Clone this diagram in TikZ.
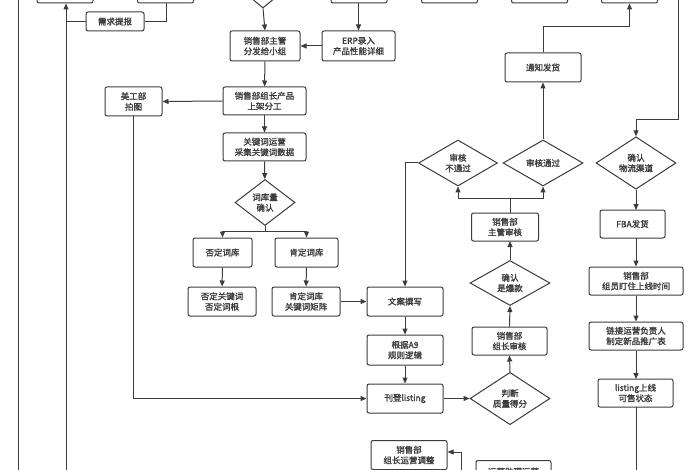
\documentclass[tikz,border=0pt]{standalone}
\usepackage{fontspec}
\setmainfont{Noto Sans CJK SC}[AutoFakeBold=1.6]
\usetikzlibrary{shapes.geometric,arrows.meta}
\definecolor{ln}{HTML}{3C3C3C}
\tikzset{
  box/.style={draw=ln,line width=1pt,rounded corners=2pt,fill=white,align=center,inner sep=1pt,font=\fontsize{8.5}{10.5}\selectfont\bfseries,text=ln},
  dia/.style={draw=ln,line width=1pt,diamond,fill=white,align=center,inner sep=0pt,font=\fontsize{8.5}{10.5}\selectfont\bfseries,text=ln},
  ar/.style={draw=ln,line width=1pt,-{Triangle[length=6pt,width=5pt]}},
  ln/.style={draw=ln,line width=1pt},
}
\begin{document}
\begin{tikzpicture}[x=1pt,y=-1pt]
\useasboundingbox (0,0) rectangle (700,470);
\clip (0,0) rectangle (700,470);
\fill[white] (0,0) rectangle (700,470);
% top partial boxes
\foreach \n/\x in {tba/65,tbb/165.5,tbc/359,tbd/449.5,tbe/539.5,tbf/629.5}
  \node[box,minimum width=56pt,minimum height=16pt] (\n) at (\x,-5) {};
\node[dia,minimum width=44pt,minimum height=36pt] (tdia) at (263,-10) {};
% left lines
\draw[ln] (18,470) -- (18,0);
\draw[ar] (66,470) -- (tba.south -| 66,0);
\node[box,minimum width=58pt,minimum height=19pt] (xq) at (115,21.5) {需求提报};
\draw[ln] (tbb.south -| 166,0) |- (xq.east);
\draw[ln] (xq.west) -- (66,21.5);
% center column
\node[box,minimum width=70pt,minimum height=30pt] (zg) at (265,46) {销售部主管\\分发给小组};
\node[box,minimum width=73pt,minimum height=30pt] (erp) at (358.5,46) {ERP录入\\产品性能详细};
\draw[ar] (tdia.south) -- (zg.north);
\draw[ar] (tbc.south -| 358.5,0) -- (erp.north);
\draw[ar] (erp.west) -- (zg.east);
\node[box,minimum width=83pt,minimum height=28pt] (zz) at (264.5,101) {销售部组长产品\\上架分工};
\node[box,minimum width=57pt,minimum height=29pt] (mg) at (133.5,101.5) {美工部\\拍图};
\draw[ar] (zg) -- (zz);
\draw[ar] (zz.west) -- (mg.east);
\node[box,minimum width=83pt,minimum height=28pt] (gj) at (264.5,147) {关键词运营\\采集关键词数据};
\draw[ar] (zz) -- (gj);
\node[dia,minimum width=60pt,minimum height=46pt] (ck) at (265,202.5) {词库量\\确认};
\draw[ar] (gj) -- (ck);
\node[box,minimum width=59pt,minimum height=29pt] (fd) at (222.5,252.5) {否定词库};
\node[box,minimum width=63pt,minimum height=29pt] (kd) at (306.5,252.5) {肯定词库};
\draw[ln] (ck.south) -- (265,231);
\draw[ar] (222.5,231) -- (fd.north);
\draw[ar] (306.5,231) -- (kd.north);
\draw[ln] (222.5,231) -- (306.5,231);
\node[box,minimum width=68pt,minimum height=29pt] (fg) at (222,301.5) {否定关键词\\否定词根};
\node[box,minimum width=68pt,minimum height=29pt] (kg) at (306,301.5) {肯定词库\\关键词矩阵};
\draw[ar] (fd) -- (fg);
\draw[ar] (kd) -- (kg);
% copy column
\node[box,minimum width=76pt,minimum height=29pt] (wa) at (405,301.5) {文案撰写};
\node[box,minimum width=76pt,minimum height=30pt] (a9) at (405,350) {根据A9\\规则逻辑};
\node[box,minimum width=76pt,minimum height=29pt] (kd2) at (405,398.5) {刊登listing};
\draw[ar] (kg.east) -- (wa.west);
\draw[ar] (wa) -- (a9);
\draw[ar] (a9) -- (kd2);
\draw[ar] (mg.south) |- (kd2.west);
\node[dia,minimum width=80pt,minimum height=46pt] (pd) at (510,398.5) {判断\\质量得分};
\draw[ar] (kd2.east) -- (pd.west);
\node[box,minimum width=75pt,minimum height=28pt] (zs) at (509.5,341) {销售部\\组长审核};
\draw[ar] (pd.north) -- (zs.south);
\node[dia,minimum width=80pt,minimum height=45pt] (bk) at (510,283) {确认\\是爆款};
\draw[ar] (zs.north) -- (bk.south);
\node[box,minimum width=67pt,minimum height=28pt] (zgs) at (505,227) {销售部\\主管审核};
\draw[ar] (bk.north) -- (510,241);
\node[dia,minimum width=79pt,minimum height=46pt] (bt) at (458,163) {审核\\不通过};
\node[dia,minimum width=80pt,minimum height=46pt] (tg) at (543,163) {审核通过};
\draw[ln] (510,213) -- (510,199);
\draw[ln] (458,199) -- (543,199);
\draw[ar] (458,199) -- (bt.south);
\draw[ar] (543,199) -- (tg.south);
\draw[ar] (bt.west) -- (405,163) -- (wa.north);
\node[box,minimum width=76pt,minimum height=29pt] (tz) at (543,67.5) {通知发货};
\draw[ar] (tg.north) -- (tz.south);
\draw[ar] (tz.north) |- (629.5,27) -- (tbf.south -| 629.5,0);
% right column
\node[dia,minimum width=80pt,minimum height=46pt] (wl) at (636,163) {确认\\物流渠道};
\draw[ar] (678,0) |- (636,120) -- (wl.north);
\node[box,minimum width=65pt,minimum height=28pt] (fba) at (632.5,224) {FBA发货};
\draw[ar] (wl.south) -- (636,210);
\node[box,minimum width=94pt,minimum height=28pt] (dz) at (636,281) {销售部\\组员盯住上线时间};
\node[box,minimum width=94pt,minimum height=28pt] (lj) at (636,336) {链接运营负责人\\制定新品推广表};
\node[box,minimum width=75pt,minimum height=28pt] (ls) at (635.5,393) {listing上线\\可售状态};
\draw[ar] (636,238) -- (dz.north);
\draw[ar] (dz) -- (lj);
\draw[ar] (lj.south) -- (636,379);
\draw[ln] (636,407) -- (636,470);
% bottom
\node[box,minimum width=76pt,minimum height=29pt] (yy) at (409,455) {销售部\\组长运营调整};
\draw[ar] (461,470) |- (yy.east |- 0,452);
\node[box,minimum width=75pt,minimum height=22pt,anchor=north] (zl) at (513.5,460) {运营助理运营};
\end{tikzpicture}
\end{document}
